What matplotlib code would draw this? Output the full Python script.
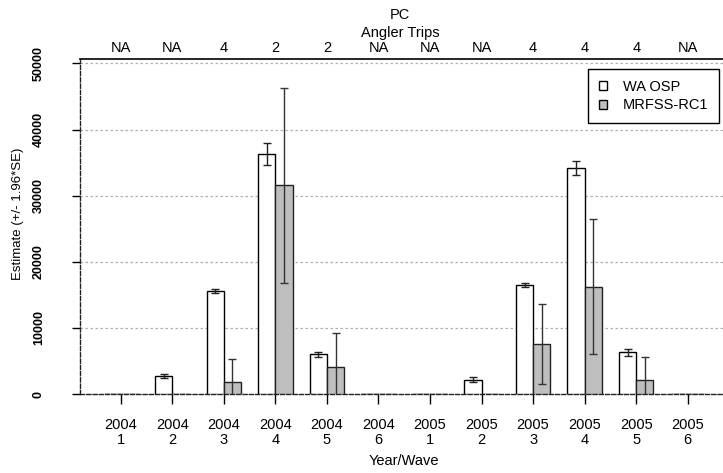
"""Estimates by year/wave, WA OSP vs MRFSS-RC1."""
import numpy as np
from matplotlib import pyplot as plt
from matplotlib.patches import Patch

waves = ['2004\n1', '2004\n2', '2004\n3', '2004\n4', '2004\n5', '2004\n6',
         '2005\n1', '2005\n2', '2005\n3', '2005\n4', '2005\n5', '2005\n6']
trips = ['NA', 'NA', '4', '2', '2', 'NA', 'NA', 'NA', '4', '4', '4', 'NA']

osp = np.array([0, 2700, 15600, 36300, 6000, 0, 0, 2170, 16490, 34190, 6300, 0])
osp_err = np.array([0, 300, 350, 1610, 350, 0, 0, 350, 350, 1010, 555, 0])
mrfss = np.array([0, 0, 1760, 31570, 4140, 0, 0, 0, 7590, 16250, 2170, 0])
mrfss_err = np.array([0, 0, 3480, 14720, 5090, 0, 0, 0, 6050, 10160, 3430, 0])

plt.rcParams['font.family'] = ['Liberation Sans', 'DejaVu Sans']
fs = 10.5

W, H = 723, 473
fig = plt.figure(figsize=(W / 100, H / 100), dpi=100)
left, right, top, bottom = 79.5, 729, 59.5, 394
ax = fig.add_axes([left / W, 1 - bottom / H, (right - left) / W, (bottom - top) / H])

x = np.arange(len(waves))
bw = 1 / 3
ax.bar(x - bw / 2, osp, bw, color='white', edgecolor='black', linewidth=1, zorder=3)
ax.bar(x + bw / 2, mrfss, bw, color='#bebebe', edgecolor='#222222', linewidth=1, zorder=3)

m = osp_err > 0
ax.errorbar(x[m] - bw / 2, osp[m], yerr=osp_err[m], fmt='none', ecolor='#222222',
            elinewidth=1, capsize=3, capthick=1, zorder=4)
m = mrfss_err > 0
ax.errorbar(x[m] + bw / 2, mrfss[m], yerr=mrfss_err[m], fmt='none', ecolor='#333333',
            elinewidth=1, capsize=3, capthick=1, zorder=4)

ax.set_xlim(-0.8, 11.8)
ax.set_ylim(0, 50600)
ax.set_yticks([0, 10000, 20000, 30000, 40000, 50000])
for yv in [10000, 20000, 30000, 40000, 50000]:
    ax.axhline(yv, color='#b0b0b0', linewidth=0.9, linestyle=(0, (2, 2)), zorder=1)

ax.set_xticks(x)
ax.set_xticklabels(waves, fontsize=fs, linespacing=1.15)
ax.tick_params(axis='x', length=7, width=1, pad=10)
ax.tick_params(axis='y', length=6, width=1, pad=19, labelsize=9, labelrotation=90)
for lab in ax.get_yticklabels():
    lab.set_verticalalignment('center')
    lab.set_fontweight('bold')

ax.spines['right'].set_visible(False)
ax.spines['top'].set_linewidth(1.2)
for s in ['left', 'bottom']:
    ax.spines[s].set_linestyle((0, (3, 1.5)))
    ax.spines[s].set_color('#222222')
    ax.spines[s].set_linewidth(1)

ax.set_xlabel('Year/Wave', fontsize=fs, labelpad=5)
fig.text(18 / W, 1 - 214 / H, 'Estimate (+/- 1.96*SE)', rotation=90,
         ha='center', va='center', fontsize=9.5)

# trips per wave along the top
for i, t in enumerate(trips):
    ax.annotate(t, (i, 1), xycoords=('data', 'axes fraction'), xytext=(0, 3),
                textcoords='offset points', ha='center', va='bottom', fontsize=fs)
fig.text(400 / W, 1 - 33 / H, 'Angler Trips', ha='center', va='center', fontsize=fs)
fig.text(400 / W, 1 - 15 / H, 'PC', ha='center', va='center', fontsize=fs)

handles = [Patch(facecolor='white', edgecolor='black', linewidth=1),
           Patch(facecolor='#bebebe', edgecolor='black', linewidth=1)]
leg = ax.legend(handles, ['WA OSP', 'MRFSS-RC1'], loc='upper right',
                bbox_to_anchor=(719 / W, 1 - 69 / H), bbox_transform=fig.transFigure,
                borderaxespad=0, fancybox=False, framealpha=1, edgecolor='black',
                fontsize=fs, handlelength=0.55, handleheight=0.55, handletextpad=1.1,
                borderpad=0.75, labelspacing=0.3)
leg.get_frame().set_linewidth(1)
leg.set_zorder(5)

fig.savefig('out.png', dpi=100)
